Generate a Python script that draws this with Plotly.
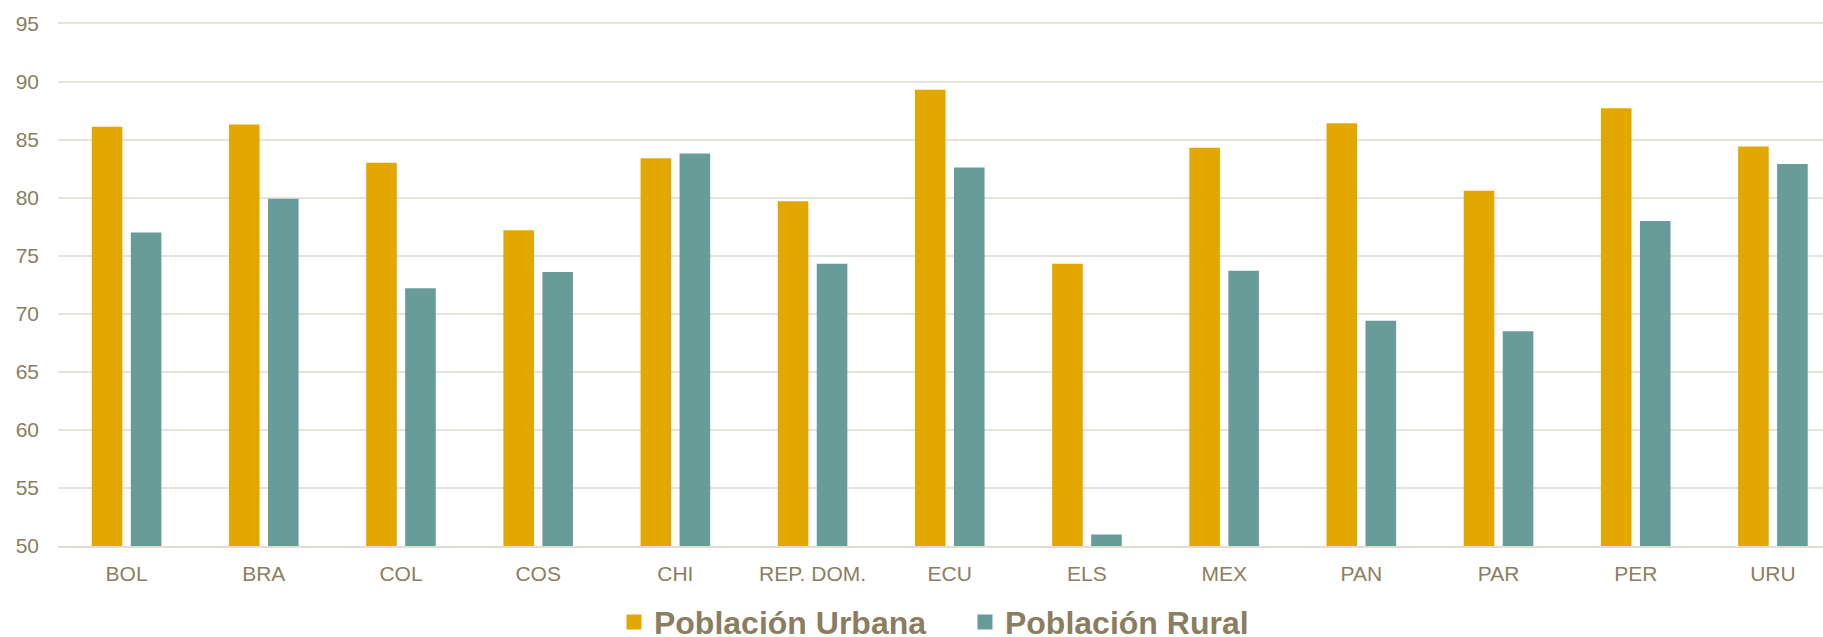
import plotly.graph_objects as go

categories = ["BOL", "BRA", "COL", "COS", "CHI", "REP. DOM.", "ECU", "ELS", "MEX", "PAN", "PAR", "PER", "URU"]
urbana = [86.1, 86.3, 83.0, 77.2, 83.4, 79.7, 89.3, 74.3, 84.3, 86.4, 80.6, 87.7, 84.4]
rural = [77.0, 79.9, 72.2, 73.6, 83.8, 74.3, 82.6, 51.0, 73.7, 69.4, 68.5, 78.0, 82.9]
y_ticks = [50, 55, 60, 65, 70, 75, 80, 85, 90, 95]

text_color = "#8A7E60"
grid_color = "#E6E3DC"
c_urb = "#E3A800"
c_rur = "#679C99"

bar_w = 0.223
off_urb = -0.2536
off_rur = 0.0306

fig = go.Figure()
fig.add_trace(go.Bar(name="Población Urbana", x=categories, y=urbana, width=bar_w, offset=off_urb,
                     legendgroup="u", showlegend=False,
                     marker=dict(color=c_urb, line=dict(width=0))))
fig.add_trace(go.Bar(name="Población Rural", x=categories, y=rural, width=bar_w, offset=off_rur,
                     legendgroup="r", showlegend=False,
                     marker=dict(color=c_rur, line=dict(width=0))))
# legend entries (larger square swatches)
fig.add_trace(go.Bar(name="Población Urbana", x=[None], y=[None], legendgroup="u", showlegend=True,
                     marker=dict(color=c_urb, line=dict(width=3, color=c_urb))))
fig.add_trace(go.Bar(name="Población Rural", x=[None], y=[None], legendgroup="r", showlegend=True,
                     marker=dict(color=c_rur, line=dict(width=3, color=c_rur))))

fig.update_layout(
    width=1823, height=637,
    margin=dict(l=58, r=0, t=20, b=90.5, autoexpand=False),
    paper_bgcolor="white", plot_bgcolor="white",
    barmode="overlay",
    font=dict(family="Liberation Sans, Arial, sans-serif", color=text_color),
    showlegend=True,
    legend=dict(orientation="h", x=0.315, xanchor="left", yref="container", y=0.0234, yanchor="middle",
                font=dict(size=32, color=text_color, family="Liberation Sans, Arial, sans-serif", weight="bold"),
                itemwidth=30, entrywidth=306, bgcolor="rgba(0,0,0,0)", traceorder="normal"),
)
fig.update_xaxes(categoryorder="array", categoryarray=categories,
                 range=[-0.5, 12.365], showgrid=False, showline=True, linecolor="#E0DDD5", linewidth=2,
                 tickfont=dict(size=21, color=text_color), ticks="", ticklabelstandoff=8)
fig.update_yaxes(range=[50, 95.3], tickvals=y_ticks, showgrid=True, gridcolor=grid_color, gridwidth=1.5,
                 zeroline=False, showline=False, tickfont=dict(size=21, color=text_color), ticks="",
                 ticklabelstandoff=18)

fig.write_html("out.html", config={"displayModeBar": False},
               post_script="document.body.style.margin='0';")
